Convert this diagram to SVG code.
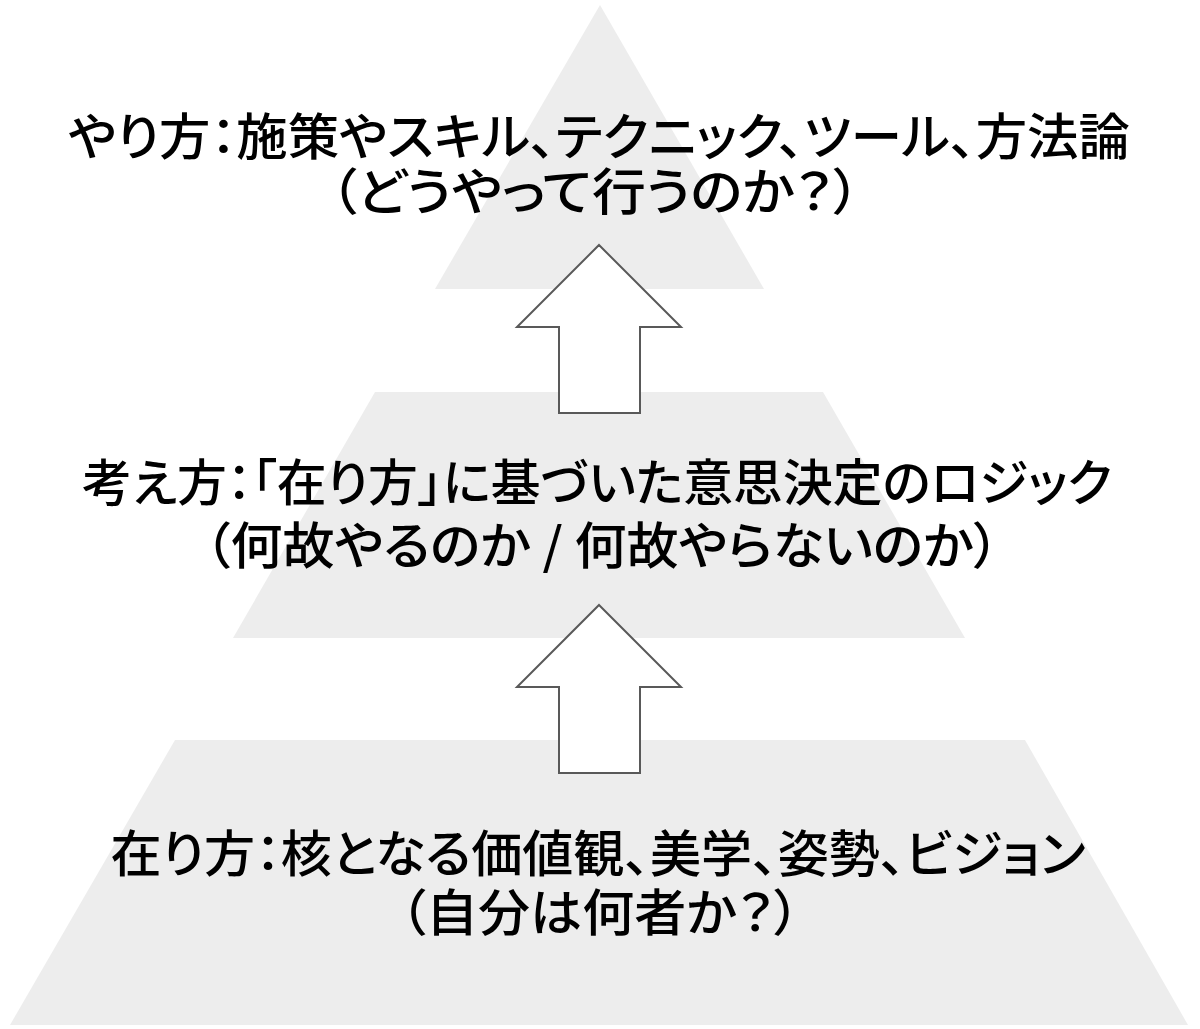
<svg xmlns="http://www.w3.org/2000/svg" width="1200" height="1029" viewBox="0 0 1200 1029">
<style>
.band{fill:#ededed;stroke:none}
.arrow{fill:#ffffff;stroke:#595959;stroke-width:2;stroke-linejoin:miter}
.t{font-family:"Noto Sans CJK JP","Noto Sans",sans-serif;font-size:50px;font-weight:500;fill:#000;text-anchor:middle;font-feature-settings:"palt"}
</style>
<rect width="1200" height="1029" fill="#ffffff"/>
<g id="top-tier">
<polygon class="band" points="600,5 764,289 435,289"/>
<text class="t" x="599" y="155" textLength="1062" lengthAdjust="spacingAndGlyphs">やり方：施策やスキル、テクニック、ツール、方法論</text>
<text class="t" x="595" y="210" textLength="530" lengthAdjust="spacingAndGlyphs">（どうやって行うのか？）</text>
</g>
<g id="middle-tier">
<polygon class="band" points="375,392 823,392 965,638 233,638"/>
<text class="t" x="597" y="501" textLength="1030" lengthAdjust="spacingAndGlyphs">考え方：「在り方」に基づいた意思決定のロジック</text>
<text class="t" x="602" y="564" textLength="795" lengthAdjust="spacingAndGlyphs">（何故やるのか / 何故やらないのか）</text>
</g>
<g id="bottom-tier">
<polygon class="band" points="175,740 1025,740 1188,1025 10,1025"/>
<text class="t" x="598" y="872" textLength="975" lengthAdjust="spacingAndGlyphs">在り方：核となる価値観、美学、姿勢、ビジョン</text>
<text class="t" x="600" y="931" textLength="400" lengthAdjust="spacingAndGlyphs">（自分は何者か？）</text>
</g>
<g id="connectors">
<polygon class="arrow" points="599,245 681,327 640,327 640,413 559,413 559,327 517,327"/>
<polygon class="arrow" points="599,605 681,687 640,687 640,773 559,773 559,687 517,687"/>
</g>
</svg>
